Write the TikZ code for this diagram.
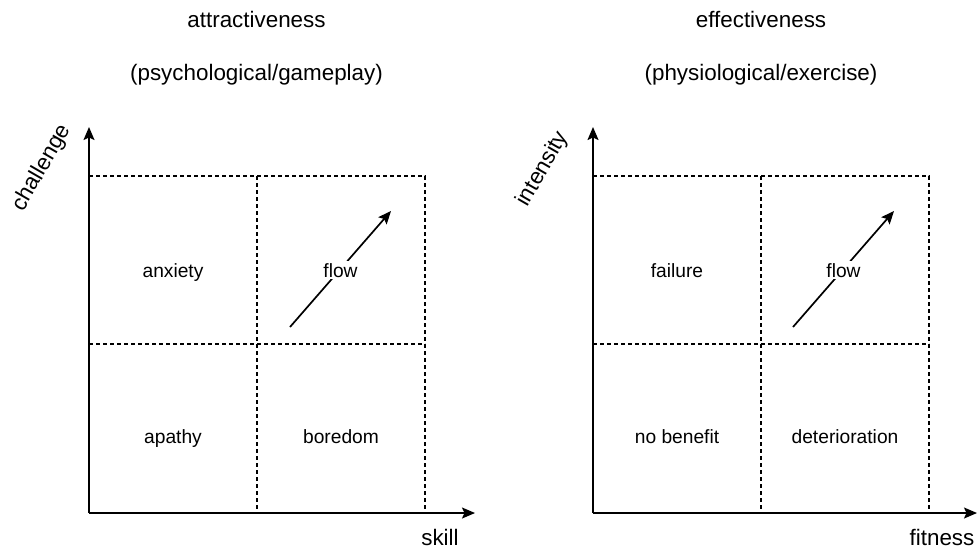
\documentclass[tikz,border=0pt]{standalone}
\usepackage{fontspec}
\setmainfont{Liberation Sans}
\usetikzlibrary{arrows.meta}
\begin{document}
\begin{tikzpicture}[x=1pt,y=-1pt,
  axis/.style={line width=1.7pt,-{Stealth[length=13pt,width=11pt,inset=2.5pt]}},
  grid/.style={line width=1.2pt,dash pattern=on 4pt off 3pt},
  flowarrow/.style={line width=1.7pt,-{Stealth[length=13pt,width=11pt,inset=2.5pt]}},
  cell/.style={inner sep=0pt,anchor=base,font=\fontsize{19.2}{23}\selectfont},
  big/.style={inner sep=0pt,anchor=base,font=\fontsize{22.4}{27}\selectfont},
  flowlabel/.style={cell,fill=white,inner sep=2pt}]
\useasboundingbox (0,0) rectangle (977,550);

% ---------- left panel: attractiveness ----------
\node[big] (t1) at (256.5,27) {attractiveness};
\node[big] (s1) at (256.5,80) {(psychological/gameplay)};

\coordinate (o1) at (89,513);
\coordinate (yt1) at (89,127);
\coordinate (xt1) at (475,513);
\draw[grid] (89,176) -- (425,176) -- (425,513);
\draw[grid] (89,344) -- (425,344);
\draw[grid] (257,176) -- (257,513);
\draw[axis] (o1) -- (yt1);
\draw[axis] (o1) -- (xt1);

\node[big,anchor=center,rotate=60] (c1) at (42,168) {challenge};
\node[big] (k1) at (440,545) {skill};

\coordinate (fa1) at (290,327);
\coordinate (fb1) at (391,211);
\draw[flowarrow] (fa1) -- (fb1);
\node[flowlabel] (f1) at (340.5,277) {flow};
\node[cell] (an) at (173,277) {anxiety};
\node[cell] (ap) at (173,443) {apathy};
\node[cell] (bo) at (341,443) {boredom};

% ---------- right panel: effectiveness ----------
\node[big] (t2) at (761,27) {effectiveness};
\node[big] (s2) at (761,80) {(physiological/exercise)};

\coordinate (o2) at (593,513);
\coordinate (yt2) at (593,127);
\coordinate (xt2) at (977,513);
\draw[grid] (593,176) -- (929,176) -- (929,513);
\draw[grid] (593,344) -- (929,344);
\draw[grid] (761,176) -- (761,513);
\draw[axis] (o2) -- (yt2);
\draw[axis] (o2) -- (xt2);

\node[big,anchor=center,rotate=60] (c2) at (543,169) {intensity};
\node[big] (k2) at (942,545) {fitness};

\coordinate (fa2) at (793,327);
\coordinate (fb2) at (894,211);
\draw[flowarrow] (fa2) -- (fb2);
\node[flowlabel] (f2) at (843.5,277) {flow};
\node[cell] (fa) at (677,277) {failure};
\node[cell] (nb) at (677,443) {no benefit};
\node[cell] (de) at (845,443) {deterioration};
\end{tikzpicture}
\end{document}
